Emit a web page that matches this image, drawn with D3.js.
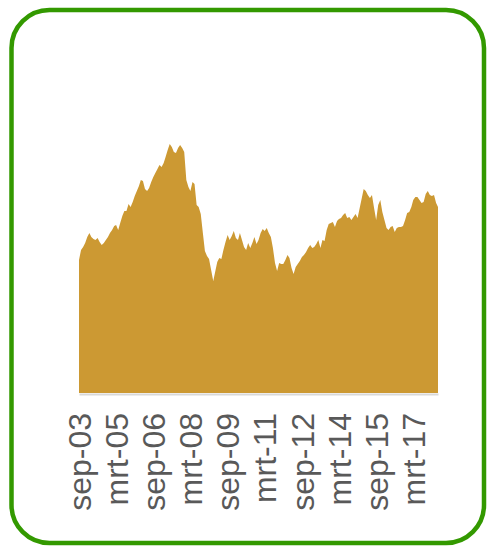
<!DOCTYPE html>
<html>
<head>
<meta charset="utf-8">
<script src="https://cdn.jsdelivr.net/npm/d3@7"></script>
<style>
  body { margin: 0; background: #fff; }
  .tickLabel { font-family: "Liberation Sans", Arial, sans-serif; font-size: 32px; fill: #595959; }
</style>
</head>
<body>
<svg id="chart" width="489" height="548"></svg>
<script>
// monthly series, sep-2003 .. mrt-2018
const startMonth = "2003-09";
const values = [
  133, 143, 146, 150, 156, 160, 156, 154, 153, 155, 151, 148, 150, 153, 156, 160, 163, 167, 168, 163,
  170, 177, 182, 182, 189, 186, 191, 197, 202, 207, 213, 212, 204, 202, 205, 211, 216, 220, 224, 228,
  226, 230, 236, 243, 249, 246, 241, 240, 245, 248, 245, 241, 213, 206, 202, 211, 209, 188, 186, 179,
  160, 142, 137, 134, 123, 112, 121, 131, 135, 134, 143, 151, 158, 153, 157, 162, 155, 153, 160, 153,
  146, 143, 150, 145, 150, 156, 149, 153, 160, 164, 162, 165, 160, 156, 145, 130, 122, 130, 129, 129,
  133, 138, 135, 125, 119, 126, 129, 132, 136, 138, 141, 145, 148, 145, 146, 149, 153, 145, 153, 152,
  163, 169, 170, 171, 166, 172, 174, 175, 178, 180, 175, 176, 173, 176, 179, 175, 185, 195, 204, 202,
  198, 195, 198, 185, 173, 188, 193, 181, 173, 165, 163, 166, 167, 161, 165, 166, 166, 167, 173, 180,
  181, 186, 193, 196, 196, 193, 190, 191, 199, 202, 198, 197, 198, 190, 186
];
const tickMonths = ["2003-09", "2005-03", "2006-09", "2008-03", "2009-09", "2011-03", "2012-09", "2014-03", "2015-09", "2017-03"];
const tickLabels = ["sep-03", "mrt-05", "sep-06", "mrt-08", "sep-09", "mrt-11", "sep-12", "mrt-14", "sep-15", "mrt-17"];

const parseMonth = d3.timeParse("%Y-%m");
const start = parseMonth(startMonth);
const data = values.map((v, i) => ({ month: d3.timeMonth.offset(start, i), value: v }));

const svg = d3.select("#chart");

// rounded green frame
svg.append("rect")
  .attr("x", 11.5)
  .attr("y", 10)
  .attr("width", 472.5)
  .attr("height", 533)
  .attr("rx", 38)
  .attr("fill", "#fff")
  .attr("stroke", "#339900")
  .attr("stroke-width", 4.5);

const left = 79, right = 438, bottom = 393;

const xScale = d3.scaleTime()
  .domain(d3.extent(data, d => d.month))
  .range([left, right]);

const yScale = d3.scaleLinear()
  .domain([0, 250])
  .range([bottom, bottom - 250]);

const area = d3.area()
  .x(d => xScale(d.month))
  .y0(yScale(0))
  .y1(d => yScale(d.value));

svg.append("path")
  .datum(data)
  .attr("fill", "#cc9933")
  .attr("d", area);

// x axis: light line + rotated labels
const xAxis = d3.axisBottom(xScale)
  .tickValues(tickMonths.map(parseMonth))
  .tickSize(0)
  .tickFormat((d, i) => tickLabels[i]);

const gx = svg.append("g")
  .attr("transform", `translate(0, ${bottom + 1})`)
  .call(xAxis);

gx.select(".domain")
  .attr("stroke", "#d9d9d9")
  .attr("stroke-width", 2);

gx.selectAll(".tick text")
  .attr("class", "tickLabel")
  .attr("font-size", null)
  .attr("font-family", null)
  .attr("fill", null)
  .attr("y", 0)
  .attr("x", -19)
  .attr("dy", "0.35em")
  .attr("transform", "rotate(-90)")
  .style("text-anchor", "end");
gx.attr("font-size", null).attr("font-family", null);
</script>
</body>
</html>
